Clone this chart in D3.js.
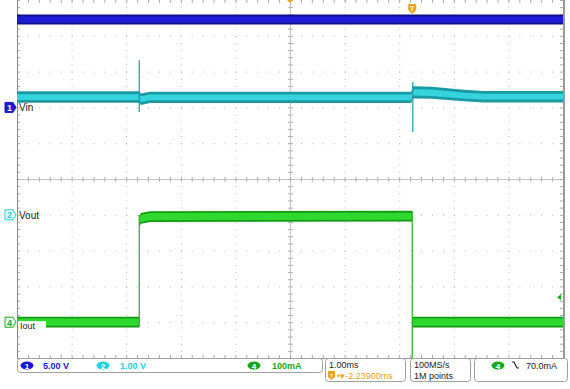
<!DOCTYPE html>
<html>
<head>
<meta charset="UTF-8">
<script src="https://d3js.org/d3.v7.min.js"></script>
<style>
  body { margin: 0; background: #fff; }
  svg { display: block; font-family: 'Liberation Sans', Arial, sans-serif; }
</style>
</head>
<body>
<svg id="scope" width="570" height="389"></svg>
<script>
// --- channel settings (per division) ---
const ch1Scale = 5.0, ch1Pos = 2;      // Vin, 5 V/div
const ch2Scale = 1.0, ch2Pos = -1;     // Vout, 1 V/div
const ch4Scale = 0.1, ch4Pos = -4;     // Iout, 100 mA/div
const trigLevel = 0.07;                // A
const timeSpan = [-7.239, 2.761];      // ms, trigger at 0

// --- Vin (ch1): envelope breakpoints ---
const vinT    = [-7.239, 2.761];
const vinMean = [12.28, 12.28];
const vinCore = [0.45, 0.45];
const vinNoise= [0.7, 0.7];

// --- Vout (ch2) ---
const voutT    = [-7.239, -5.0, -4.97, -4.8, -0.02, 0.01, 0.35, 0.95, 1.3, 2.761];
const voutMean = [3.29, 3.29, 3.23, 3.28, 3.28, 3.42, 3.41, 3.33, 3.30, 3.30];
const voutCore = [0.08, 0.08, 0.08, 0.08, 0.08, 0.09, 0.09, 0.08, 0.08, 0.08];
const voutNoise= [0.16, 0.16, 0.16, 0.16, 0.16, 0.17, 0.17, 0.16, 0.16, 0.16];
// transient spikes: time, max, min (V)
const voutSpikeT   = [-5.0, 0.01];
const voutSpikeMax = [4.32, 3.71];
const voutSpikeMin = [2.87, 2.31];

// --- Iout (ch4): segments between load steps ---
const ioutSegT    = [[-7.239, -5.0], [-5.0, -4.97, -4.8, 0.0], [0.0, 2.761]];
const ioutSegMean = [[0.0, 0.0], [0.28, 0.29, 0.295, 0.296], [0.0, 0.0]];
const ioutCore  = 0.010;
const ioutNoise = 0.015;
// edges: time, from, to (A)
const ioutEdgeT    = [-5.0, 0.0];
const ioutEdgeFrom = [-0.013, 0.31];
const ioutEdgeTo   = [0.30, -0.12];

// --- status bar texts ---
const chanBadges = [
  { n: "1", text: "5.00 V", color: "#1a1ad0", x: 27, tx: 43 },
  { n: "2", text: "1.00 V", color: "#22d3dc", x: 103, tx: 120 },
  { n: "4", text: "100mA", color: "#16a616", x: 254, tx: 272 }
];
const timebase = "1.00ms";
const trigDelay = "-2.23900ms";
const sampleRate = "100MS/s";
const recordLen = "1M points";
const trigText = "70.0mA";

const svg = d3.select("#scope");
const L = 17, R = 563, T = 0, B = 358;

const x = d3.scaleLinear().domain(timeSpan).range([L, R]);
const xDiv = d3.scaleLinear().domain([-5, 5]).range([L, R]);
const yDiv = d3.scaleLinear().domain([-5, 5]).range([B, T]);
const y1 = v => yDiv(ch1Pos + v / ch1Scale);
const y2 = v => yDiv(ch2Pos + v / ch2Scale);
const y4 = a => yDiv(ch4Pos + a / ch4Scale);

svg.append("defs").append("clipPath").attr("id", "plot")
  .append("rect").attr("x", L).attr("y", T).attr("width", R - L).attr("height", B - T);

// --- graticule ---
const grid = svg.append("g");
const minor = d3.range(-5, 5.001, 0.2).map(d => +d.toFixed(2));
for (let i = -4; i <= 4; i++) {
  if (i === 0) continue;
  minor.forEach(m => {
    grid.append("rect").attr("x", xDiv(i)).attr("y", yDiv(m)).attr("width", 1).attr("height", 1).attr("fill", "#b4b4b4");
    grid.append("rect").attr("x", xDiv(m)).attr("y", yDiv(i)).attr("width", 1).attr("height", 1).attr("fill", "#b4b4b4");
  });
}
grid.append("line").attr("x1", xDiv(0) + 0.5).attr("x2", xDiv(0) + 0.5).attr("y1", T).attr("y2", B).attr("stroke", "#c4c4c4");
grid.append("line").attr("y1", yDiv(0) + 0.5).attr("y2", yDiv(0) + 0.5).attr("x1", L).attr("x2", R).attr("stroke", "#c4c4c4");
minor.forEach(m => {
  grid.append("line").attr("x1", xDiv(m) + 0.5).attr("x2", xDiv(m) + 0.5).attr("y1", yDiv(0) - 2).attr("y2", yDiv(0) + 3).attr("stroke", "#b0b0b0");
  grid.append("line").attr("y1", yDiv(m) + 0.5).attr("y2", yDiv(m) + 0.5).attr("x1", xDiv(0) - 2).attr("x2", xDiv(0) + 3).attr("stroke", "#b0b0b0");
  grid.append("line").attr("x1", xDiv(m) + 0.5).attr("x2", xDiv(m) + 0.5).attr("y1", B - 3).attr("y2", B).attr("stroke", "#a8a8a8");
  grid.append("line").attr("x1", xDiv(m) + 0.5).attr("x2", xDiv(m) + 0.5).attr("y1", T).attr("y2", T + 3).attr("stroke", "#a8a8a8");
  grid.append("line").attr("y1", yDiv(m) + 0.5).attr("y2", yDiv(m) + 0.5).attr("x1", L).attr("x2", L + 3).attr("stroke", "#a8a8a8");
  grid.append("line").attr("y1", yDiv(m) + 0.5).attr("y2", yDiv(m) + 0.5).attr("x1", R - 3).attr("x2", R).attr("stroke", "#a8a8a8");
});
grid.append("line").attr("x1", L + 0.5).attr("x2", L + 0.5).attr("y1", T).attr("y2", B).attr("stroke", "#8a8a8a");
grid.append("line").attr("x1", R + 1).attr("x2", R + 1).attr("y1", T).attr("y2", B).attr("stroke", "#9a9a9a").attr("stroke-width", 2);
grid.append("line").attr("x1", L).attr("x2", R).attr("y1", B + 0.5).attr("y2", B + 0.5).attr("stroke", "#9a9a9a");

// --- traces ---
const traces = svg.append("g").attr("clip-path", "url(#plot)");

function band(ts, mean, half, yf, color) {
  const pts = ts.map((t, i) => ({ t, m: mean[i], h: Array.isArray(half) ? half[i] : half }));
  traces.append("path").datum(pts)
    .attr("d", d3.area().x(d => x(d.t)).y0(d => yf(d.m - d.h)).y1(d => yf(d.m + d.h)))
    .attr("fill", color);
}

// Vin
band(vinT, vinMean, vinNoise, y1, "#10108a");
band(vinT, vinMean, vinCore, y1, "#1c1cd4");

// Vout
band(voutT, voutMean, voutNoise, y2, "#1a9aa2");
band(voutT, voutMean, voutCore, y2, "#35d4dc");
voutSpikeT.forEach((t, i) => {
  traces.append("line").attr("x1", x(t)).attr("x2", x(t))
    .attr("y1", y2(voutSpikeMax[i])).attr("y2", y2(voutSpikeMin[i]))
    .attr("stroke", "#1a9aa2").attr("stroke-width", 1.2);
});

// Iout
ioutSegT.forEach((ts, i) => {
  band(ts, ioutSegMean[i], ioutNoise, y4, "#139a13");
  band(ts, ioutSegMean[i], ioutCore, y4, "#2fd82f");
});
ioutEdgeT.forEach((t, i) => {
  traces.append("line").attr("x1", x(t)).attr("x2", x(t))
    .attr("y1", y4(ioutEdgeFrom[i])).attr("y2", y4(ioutEdgeTo[i]))
    .attr("stroke", "#2aa82a").attr("stroke-width", 1.2);
});

// --- channel markers and labels ---
function marker(n, yv, color, filled, label, boxed) {
  const g = svg.append("g").attr("transform", `translate(5,${yv})`);
  g.append("path").attr("d", "M0,-5 H8 L11,0 L8,5 H0 Z")
    .attr("fill", filled ? color : "#e8fbfb").attr("stroke", color).attr("stroke-width", 1);
  g.append("text").attr("x", 4.5).attr("y", 3.5).attr("text-anchor", "middle")
    .attr("font-size", 9).attr("font-weight", "bold").attr("fill", filled ? "#fff" : color).text(n);
  if (boxed) {
    svg.append("rect").attr("x", 18).attr("y", yv - 1).attr("width", 28).attr("height", 9).attr("fill", "#fff");
    svg.append("text").attr("x", 20).attr("y", yv + 6.5).attr("font-size", 9).attr("fill", "#222").text(label);
  } else {
    svg.append("text").attr("x", 19).attr("y", yv + 4).attr("font-size", 10).attr("fill", "#222").text(label);
  }
}
marker("1", yDiv(ch1Pos), "#1a1ad0", true, "Vin", false);
marker("2", yDiv(ch2Pos), "#22c8d2", false, "Vout", false);
marker("4", yDiv(ch4Pos), "#18a818", false, "Iout", true);

// trigger marker (time)
const tg = svg.append("g").attr("transform", `translate(${x(0)},9)`);
tg.append("path").attr("d", "M-4,-5 H4 V1 L0,5 L-4,1 Z").attr("fill", "#f0a020");
tg.append("text").attr("y", 1.5).attr("text-anchor", "middle").attr("font-size", 7).attr("font-weight", "bold").attr("fill", "#fff").text("T");
// horizontal position marker
svg.append("path").attr("d", `M${xDiv(0) - 3},0 H${xDiv(0) + 3} L${xDiv(0)},3 Z`).attr("fill", "#f0a020");
// trigger level arrow
svg.append("path").attr("d", `M${R - 6},${y4(trigLevel)} L${R - 2},${y4(trigLevel) - 3} V${y4(trigLevel) + 3} Z`).attr("fill", "#18b018");

// --- status bar ---
const sb = svg.append("g").attr("font-size", 9);
function box(x0, x1, y0, y1) {
  sb.append("rect").attr("x", x0 + 0.5).attr("y", y0 + 0.5).attr("width", x1 - x0).attr("height", y1 - y0)
    .attr("rx", 3).attr("fill", "#fff").attr("stroke", "#a0a0a0");
}
box(17, 322, 358, 372);
box(325, 405, 358, 381);
box(410, 470, 358, 381);
box(474, 567, 358, 381);

chanBadges.forEach(c => {
  sb.append("ellipse").attr("cx", c.x).attr("cy", 365.5).attr("rx", 6.5).attr("ry", 4).attr("fill", c.color);
  sb.append("text").attr("x", c.x).attr("y", 368.5).attr("text-anchor", "middle").attr("font-size", 8)
    .attr("font-weight", "bold").attr("fill", "#fff").text(c.n);
  sb.append("text").attr("x", c.tx).attr("y", 369).attr("fill", c.color).attr("font-weight", "bold").text(c.text);
});

sb.append("text").attr("x", 329).attr("y", 368).attr("fill", "#222").text(timebase);
sb.append("path").attr("d", "M328,371 H335 V377 L331.5,380 L328,377 Z").attr("fill", "#f0a020");
sb.append("text").attr("x", 331.5).attr("y", 377.5).attr("text-anchor", "middle").attr("font-size", 6).attr("fill", "#fff").text("T");
sb.append("text").attr("x", 337).attr("y", 379).attr("fill", "#f0a020").text("•▾" + trigDelay);

sb.append("text").attr("x", 414).attr("y", 368).attr("fill", "#222").text(sampleRate);
sb.append("text").attr("x", 414).attr("y", 379).attr("fill", "#222").text(recordLen);

sb.append("ellipse").attr("cx", 498).attr("cy", 365.5).attr("rx", 6.5).attr("ry", 4).attr("fill", "#18a818");
sb.append("text").attr("x", 498).attr("y", 368.5).attr("text-anchor", "middle").attr("font-size", 8).attr("font-weight", "bold").attr("fill", "#fff").text("4");
sb.append("path").attr("d", "M512,362 h2 l3,6 h2").attr("fill", "none").attr("stroke", "#222").attr("stroke-width", 1.2);
sb.append("text").attr("x", 526).attr("y", 369).attr("fill", "#222").text(trigText);
</script>
</body>
</html>
